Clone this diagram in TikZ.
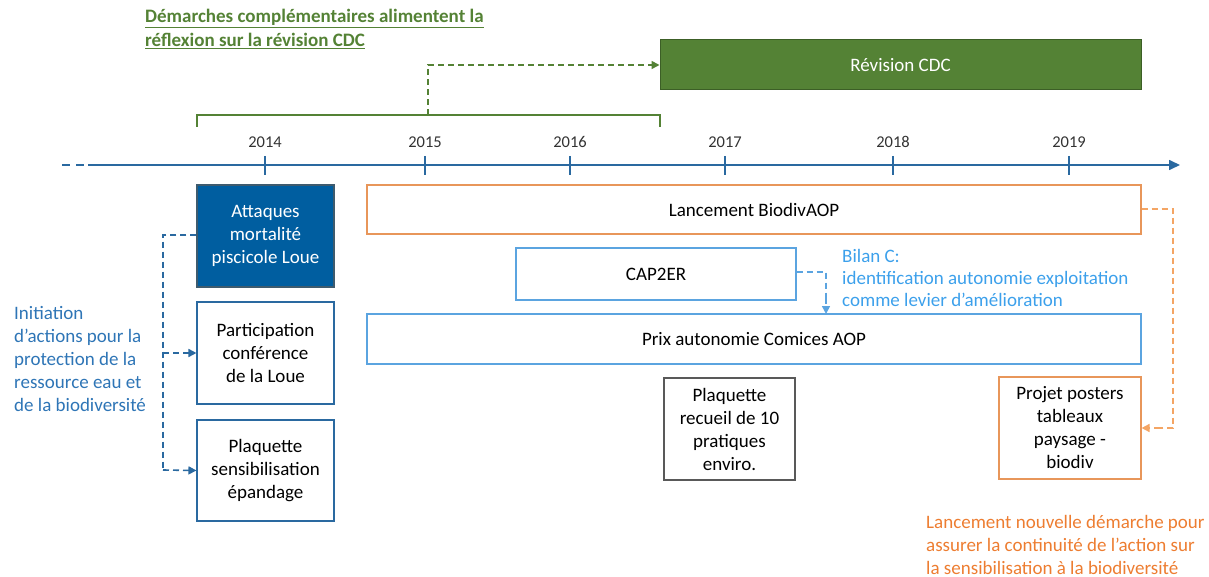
\documentclass[tikz,border=0pt]{standalone}
\usepackage{fontspec}
\setmainfont{Carlito}
\usetikzlibrary{arrows.meta}
\definecolor{cgreen}{RGB}{84,130,53}
\definecolor{cgreendk}{RGB}{60,95,38}
\definecolor{caxis}{RGB}{42,105,160}
\definecolor{cdblue}{RGB}{0,94,160}
\definecolor{ctxtblue}{RGB}{46,117,182}
\definecolor{corange}{RGB}{232,150,90}
\definecolor{corarrow}{RGB}{244,165,100}
\definecolor{cortext}{RGB}{237,125,49}
\definecolor{clblue}{RGB}{91,164,224}
\definecolor{clbtext}{RGB}{60,160,235}
\definecolor{cgray}{RGB}{89,89,89}
\tikzset{
  txt/.style={font=\fontsize{19}{23}\selectfont, align=center, inner sep=0pt},
  box/.style={txt, draw, line width=1.1pt, fill=white},
  yr/.style={font=\fontsize{16.5}{20}\selectfont, text=black!80, inner sep=0pt},
  dsh/.style={dash pattern=on 6pt off 4pt, line width=1.6pt},
  tip/.style={-{Triangle[length=8pt,width=8pt]}},
}
\begin{document}
\begin{tikzpicture}[x=1pt,y=-1pt]
\useasboundingbox (0,0) rectangle (1209,577);
% title
\node[txt, anchor=north west, align=left, text=cgreen, font=\fontsize{19}{24}\selectfont\bfseries] (title) at (145,9)
  {\underline{Démarches complémentaires alimentent la}\\\underline{réflexion sur la révision CDC}};
% Revision CDC
\node[txt, draw=cgreendk, line width=1pt, fill=cgreen, text=white, minimum width=481pt, minimum height=50pt] (rev) at (900.5,65) {Révision CDC};
% bracket
\coordinate (bl) at (197,127);
\coordinate (br) at (660,127);
\coordinate (bm) at (428,115);
\draw[cgreen, line width=1.6pt] (bl) -- (197,115) -- (660,115) -- (br);
\draw[cgreen, dsh, tip] (bm) -- (428,65) -- (rev.west);
% axis
\coordinate (ax0) at (88,165);
\coordinate (ax1) at (1180,165);
\draw[caxis, line width=1.6pt, dash pattern=on 8pt off 6pt] (62,165) -- (ax0);
\draw[caxis, line width=1.6pt, -{Triangle[length=11pt,width=10pt]}] (ax0) -- (ax1);
\foreach \x/\y in {265/2014,425/2015,570/2016,725/2017,893/2018,1069/2019}{
  \draw[caxis, line width=1.4pt] (\x,156) -- (\x,175);
  \node[yr] (y\y) at (\x,142) {\y};
}
% left boxes
\node[box, draw=cgray!70!cdblue, fill=cdblue, text=white, minimum width=137pt, minimum height=102pt] (att) at (265.5,236) {Attaques\\mortalité\\piscicole Loue};
\node[box, draw=caxis, minimum width=137pt, minimum height=102pt] (part) at (265.5,353) {Participation\\conférence\\de la Loue};
\node[box, draw=caxis, minimum width=137pt, minimum height=101pt] (plaq) at (265.5,470.5) {Plaquette\\sensibilisation\\épandage};
\node[txt, align=left, anchor=west, text=ctxtblue] (init) at (14,359) {Initiation\\d’actions pour la\\protection de la\\ressource eau et\\de la biodiversité};
\coordinate (lj) at (163,235);
\draw[caxis, dsh] (att.west |- lj) -- (lj) -- (163,470);
\draw[caxis, dsh, tip] (163,353) -- (part.west);
\draw[caxis, dsh, tip] (163,470) -- (plaq.west);
% Lancement
\node[box, draw=corange, minimum width=774pt, minimum height=49pt] (lanc) at (754,209.5) {Lancement BiodivAOP};
% CAP2ER
\node[box, draw=clblue, minimum width=280pt, minimum height=52pt] (cap) at (656,274) {CAP2ER};
\node[txt, align=left, anchor=west, text=clbtext, font=\fontsize{19}{22}\selectfont] (bilan) at (842,278) {Bilan C:\\identification autonomie exploitation\\comme levier d’amélioration};
% Prix
\node[box, draw=clblue, minimum width=774pt, minimum height=50pt] (prix) at (754,339) {Prix autonomie Comices AOP};
\coordinate (cj) at (826,272);
\draw[clblue, dsh] (cap.east |- cj) -- (cj) -- (826,300);
\draw[clblue, dsh, tip] (826,298) -- (826,314);
% Plaquette recueil
\node[box, draw=cgray, minimum width=131pt, minimum height=102pt] (rec) at (729.5,429) {Plaquette\\recueil de 10\\pratiques\\enviro.};
% Projet posters
\node[box, draw=corange, minimum width=142pt, minimum height=102pt] (proj) at (1070,428) {Projet posters\\tableaux\\paysage -\\biodiv};
\coordinate (oj) at (1173,209);
\draw[corarrow, dsh] (lanc.east |- oj) -- (oj) -- (1173,428) -- (1155,428);
\draw[corarrow, dsh, tip] (1160,428) -- (proj.east |- 0,428);
\node[txt, align=left, anchor=west, text=cortext] (lnd) at (926,545) {Lancement nouvelle démarche pour\\assurer la continuité de l’action sur\\la sensibilisation à la biodiversité};
\end{tikzpicture}
\end{document}
